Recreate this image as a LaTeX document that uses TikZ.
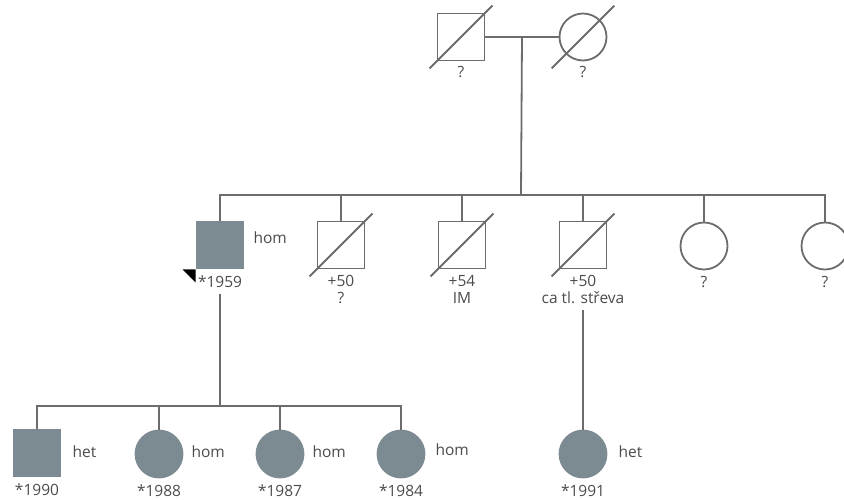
\documentclass[tikz,border=0pt]{standalone}
\usepackage{fontspec}
\setmainfont{Open Sans}
\usetikzlibrary{positioning,calc}
\definecolor{pedline}{RGB}{108,108,108}
\definecolor{pedfill}{RGB}{124,138,146}
\definecolor{pedtext}{RGB}{75,75,75}
\begin{document}
\begin{tikzpicture}[
    x=1pt, y=-1pt,
    male/.style={draw=pedline, line width=1.8pt, minimum size=47pt, inner sep=0pt},
    female/.style={draw=pedline, circle, line width=1.8pt, minimum size=47pt, inner sep=0pt},
    affected/.style={fill=pedfill, draw=pedfill},
    line/.style={draw=pedline, line width=1.8pt},
    txt/.style={text=pedtext, inner sep=0pt, align=center,
        font=\fontsize{15.5}{16.5}\selectfont},
        ]
    \useasboundingbox (0, 0) rectangle (844, 499);

    % generation I
    \node[male] (gf) at (461, 37) {};
    \node[female] (gm) at (583, 37) {};
    \node[txt, below=5pt of gf] (gft) {?};
    \node[txt, below=5pt of gm] (gmt) {?};
    \coordinate (mar) at ($(gf.east)!0.5!(gm.west)$);
    \coordinate (sib2) at (521, 195);

    \draw[line] (gf.east) -- (gm.west);
    \draw[line] (mar) -- (sib2);
    \draw[line] ([shift={(-7,7)}]gf.south west) -- ([shift={(7,-7)}]gf.north east);
    \draw[line] ([shift={(-14,14)}]gm.south west) -- ([shift={(14,-14)}]gm.north east);

    % generation II
    \node[male, affected] (p) at (220, 245) {};
    \node[male] (u1) at (341, 245) {};
    \node[male] (u2) at (462, 245) {};
    \node[male] (u3) at (583, 245) {};
    \node[female] (a1) at (704, 246) {};
    \node[female] (a2) at (825, 246) {};

    \node[txt, right=9pt of p, yshift=7pt] (pg) {hom};
    \node[txt, below=6pt of p] (pt) {*1959};
    \node[txt, below=6pt of u1, anchor=north] (u1t) {+50\\?};
    \node[txt, below=6pt of u2, anchor=north] (u2t) {+54\\IM};
    \node[txt, below=6pt of u3, anchor=north] (u3t) {+50\\ca tl. střeva};
    \node[txt, below=6pt of a1] (a1t) {?};
    \node[txt, below=6pt of a2] (a2t) {?};

    \fill[black] ([xshift=-13pt]p.south west) -- (p.south west) -- ([yshift=-13pt]p.south west) -- cycle;

    \draw[line] (p.north) -- (p |- sib2) -- (a2 |- sib2) -- (a2.north);
    \foreach \k in {u1, u2, u3, a1}
        \draw[line] (\k.north) -- (\k |- sib2);
    \foreach \k in {u1, u2, u3}
        \draw[line] ([shift={(-7,7)}]\k.south west) -- ([shift={(7,-7)}]\k.north east);

    % generation III
    \coordinate (sib3) at (220, 406);
    \node[male, affected] (c1) at (37, 453) {};
    \node[female, affected] (c2) at (159, 454) {};
    \node[female, affected] (c3) at (280, 454) {};
    \node[female, affected] (c4) at (401, 454) {};
    \node[female, affected] (n) at (583, 454) {};

    \node[txt, right=11pt of c1, yshift=1pt] (c1g) {het};
    \node[txt, right=8pt of c2, yshift=2pt] (c2g) {hom};
    \node[txt, right=8pt of c3, yshift=2pt] (c3g) {hom};
    \node[txt, right=10pt of c4, yshift=4pt] (c4g) {hom};
    \node[txt, right=11pt of n, yshift=2pt] (ng) {het};

    \node[txt, below=6pt of c1] (c1t) {*1990};
    \node[txt, below=6pt of c2] (c2t) {*1988};
    \node[txt, below=6pt of c3] (c3t) {*1987};
    \node[txt, below=6pt of c4] (c4t) {*1984};
    \node[txt, below=6pt of n] (nt) {*1991};

    \draw[line] ([yshift=-6pt]pt.south) -- (sib3);
    \draw[line] (c1.north) -- (c1 |- sib3) -- (c4 |- sib3) -- (c4.north);
    \foreach \k in {c2, c3}
        \draw[line] (\k.north) -- (\k |- sib3);
    \draw[line] ([yshift=-6pt]u3t.south) -- (n.north);
\end{tikzpicture}
\end{document}
